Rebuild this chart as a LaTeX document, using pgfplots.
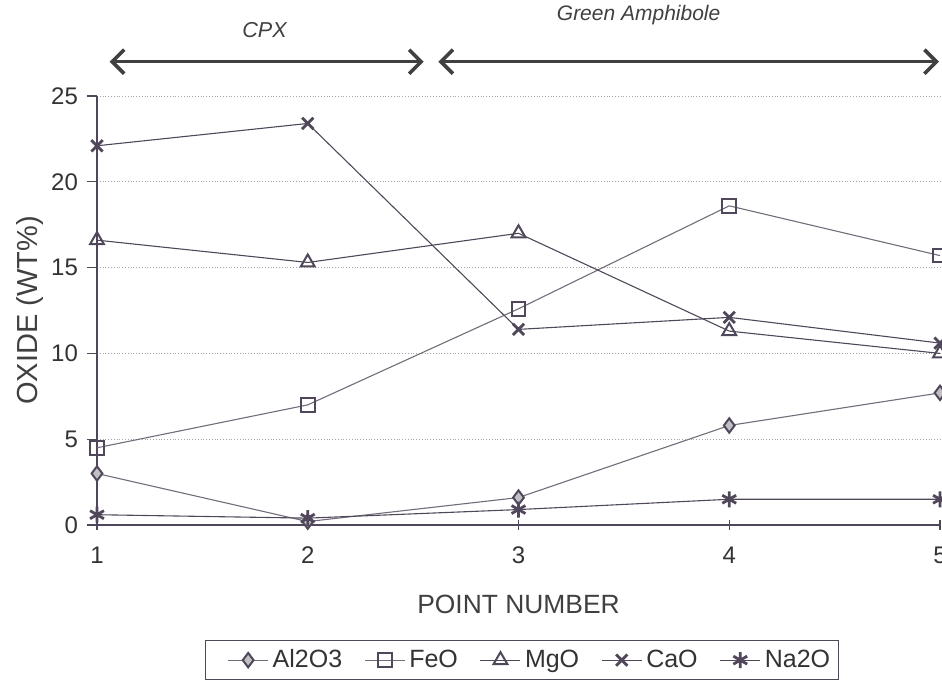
\documentclass[border=0pt]{standalone}
\usepackage{fontspec}
\setmainfont{Liberation Sans}
\usepackage{pgfplots}
\pgfplotsset{compat=1.18}
\usetikzlibrary{arrows.meta}
\definecolor{ln}{RGB}{80,72,90}
\definecolor{lnl}{RGB}{115,108,122}
\begin{document}
\begin{tikzpicture}
\useasboundingbox (-48.5pt,-78pt) rectangle (422.5pt,262.5pt);
\begin{axis}[
  at={(0,0)}, anchor=south west,
  scale only axis, width=421.5pt, height=214.5pt,
  xmin=1, xmax=5, ymin=0, ymax=25,
  xtick={1,2,3,4,5}, ytick={0,5,10,15,20,25},
  axis x line=bottom, axis y line=left,
  axis line style={-, ln, line width=0.7pt},
  x axis line style={-}, y axis line style={-},
  tick style={ln, line width=0.6pt},
  major tick length=5pt,
  xtick align=center, ytick align=outside,
  ymajorgrids, major grid style={densely dotted, gray!70, line width=0.5pt},
  tick label style={font=\fontsize{12}{14}\selectfont, text=black!80},
  /pgf/number format/assume math mode=true,
  xticklabel style={yshift=-5pt},
  yticklabel style={xshift=-1pt},
  xlabel={POINT NUMBER}, ylabel={OXIDE (WT\%)},
  xlabel style={font=\fontsize{13.2}{15}\selectfont, text=black!75, at={(axis description cs:0.5,-0.186)}, anchor=center},
  ylabel style={font=\fontsize{14.5}{16}\selectfont, text=black!75, at={(axis description cs:-0.0795,0.5)}, anchor=center},
  clip=false,
  legend columns=5, legend cell align=left,
  legend style={at={(0.504,-0.315)}, anchor=center, draw=ln, line width=0.6pt,
    font=\fontsize{12.5}{14}\selectfont, text=black!80, inner xsep=2pt, inner ysep=2.5pt},
  legend image code/.code={\path (-9pt,0pt); \draw[mark repeat=2,mark phase=2] plot coordinates {(0pt,0pt) (10pt,0pt) (20pt,0pt)};},
  every axis plot/.append style={line width=0.55pt},
]
\addplot[color=lnl, mark=diamond*, mark size=3.6pt, mark options={fill=ln!35, draw=ln, line width=1pt}]
  coordinates {(1,3.0) (2,0.2) (3,1.6) (4,5.8) (5,7.7)};
\addlegendentry{Al2O3}
\addplot[color=lnl, mark=square, mark size=3.4pt, mark options={draw=ln, line width=1pt}]
  coordinates {(1,4.5) (2,7.0) (3,12.6) (4,18.6) (5,15.7)};
\addlegendentry{FeO}
\addplot[color=ln, mark=triangle, mark size=4pt, mark options={draw=ln, line width=1pt}]
  coordinates {(1,16.6) (2,15.3) (3,17.0) (4,11.3) (5,10.0)};
\addlegendentry{MgO}
\addplot[color=ln, mark=x, mark size=4pt, mark options={draw=ln, line width=1.4pt}]
  coordinates {(1,22.1) (2,23.4) (3,11.4) (4,12.1) (5,10.6)};
\addlegendentry{CaO}
\addplot[color=ln, mark=asterisk, mark size=4pt, mark options={draw=ln, line width=1.4pt}]
  coordinates {(1,0.6) (2,0.4) (3,0.9) (4,1.5) (5,1.5)};
\addlegendentry{Na2O}
\draw[{Straight Barb[length=6pt,width=12pt]}-{Straight Barb[length=6pt,width=12pt]}, line width=1.8pt, black!75]
  (axis cs:1.06,27) -- (axis cs:2.55,27);
\draw[{Straight Barb[length=6pt,width=12pt]}-{Straight Barb[length=6pt,width=12pt]}, line width=1.8pt, black!75]
  (axis cs:2.62,27) -- (axis cs:4.995,27);
\node[font=\itshape\fontsize{10.8}{12}\selectfont, text=black!75] at (axis cs:1.795,28.85) {CPX};
\node[font=\itshape\fontsize{10.5}{12}\selectfont, text=black!75] at (axis cs:3.57,29.7) {Green Amphibole};
\end{axis}
\end{tikzpicture}
\end{document}
